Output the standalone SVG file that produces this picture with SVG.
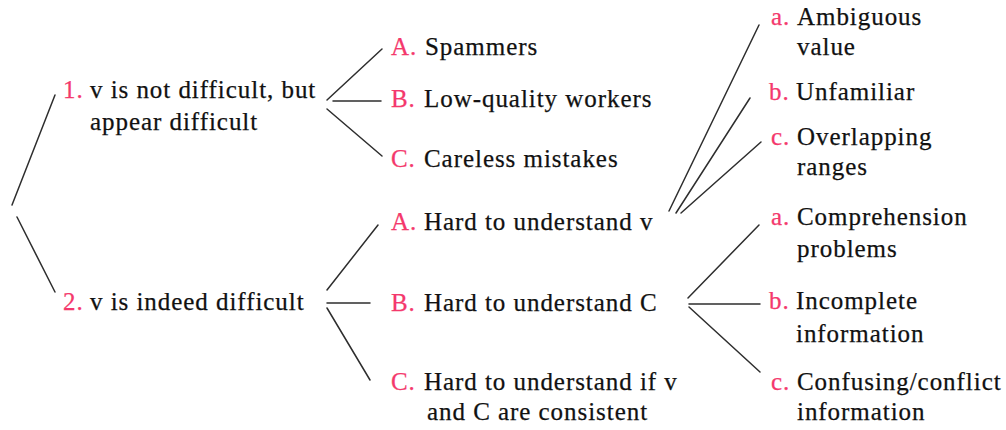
<svg xmlns="http://www.w3.org/2000/svg" width="1006" height="430" viewBox="0 0 1006 430" font-family="Liberation Serif, serif">
<style>
text{font-family:'Liberation Serif',serif;font-size:25px;letter-spacing:0.95px;fill:#111;stroke:#111;stroke-width:0.25px}
.n{fill:#f4386c;stroke:#f4386c}
.c line{stroke:#2e2e2e;stroke-width:1.5;stroke-linecap:round}
</style>
<rect width="1006" height="430" fill="#ffffff"/>
<g class="c" id="connectors">
<line x1="55" y1="95" x2="12" y2="205"/>
<line x1="17" y1="217" x2="55" y2="292"/>
<line x1="327" y1="100" x2="382" y2="49"/>
<line x1="333" y1="101" x2="381" y2="101"/>
<line x1="327" y1="109" x2="382" y2="156"/>
<line x1="327" y1="290" x2="378" y2="225"/>
<line x1="327" y1="303" x2="370" y2="303"/>
<line x1="327" y1="308" x2="370" y2="380"/>
<line x1="669" y1="211" x2="759" y2="25"/>
<line x1="676" y1="213" x2="750" y2="98"/>
<line x1="681" y1="213" x2="761" y2="142"/>
<line x1="688" y1="298" x2="759" y2="225"/>
<line x1="689" y1="304" x2="760" y2="304"/>
<line x1="689" y1="307" x2="760" y2="372"/>
</g>
<g id="n1"><text y="98"><tspan class="n" x="63">1.</tspan><tspan x="90">v is not difficult, but</tspan><tspan x="90" y="130">appear difficult</tspan></text></g>
<g id="n2"><text y="310"><tspan class="n" x="63">2.</tspan><tspan x="90">v is indeed difficult</tspan></text></g>
<g id="n1A"><text y="55"><tspan class="n" x="391">A.</tspan><tspan x="425">Spammers</tspan></text></g>
<g id="n1B"><text y="107"><tspan class="n" x="391">B.</tspan><tspan x="424">Low-quality workers</tspan></text></g>
<g id="n1C"><text y="167"><tspan class="n" x="391">C.</tspan><tspan x="424">Careless mistakes</tspan></text></g>
<g id="n2A"><text y="230"><tspan class="n" x="391">A.</tspan><tspan x="424">Hard to understand v</tspan></text></g>
<g id="n2B"><text y="311"><tspan class="n" x="391">B.</tspan><tspan x="424">Hard to understand C</tspan></text></g>
<g id="n2C"><text y="390"><tspan class="n" x="391">C.</tspan><tspan x="424">Hard to understand if v</tspan><tspan x="427" y="420">and C are consistent</tspan></text></g>
<g id="n2Aa"><text y="25"><tspan class="n" x="771">a.</tspan><tspan x="797">Ambiguous</tspan><tspan x="797" y="55">value</tspan></text></g>
<g id="n2Ab"><text y="100"><tspan class="n" x="769">b.</tspan><tspan x="796">Unfamiliar</tspan></text></g>
<g id="n2Ac"><text y="145"><tspan class="n" x="771">c.</tspan><tspan x="797">Overlapping</tspan><tspan x="797" y="175">ranges</tspan></text></g>
<g id="n2Ba"><text y="225"><tspan class="n" x="771">a.</tspan><tspan x="797">Comprehension</tspan><tspan x="797" y="257">problems</tspan></text></g>
<g id="n2Bb"><text y="309"><tspan class="n" x="769">b.</tspan><tspan x="796">Incomplete</tspan><tspan x="796" y="342">information</tspan></text></g>
<g id="n2Bc"><text y="390"><tspan class="n" x="771">c.</tspan><tspan x="797">Confusing/conflict</tspan><tspan x="797" y="420">information</tspan></text></g>
</svg>
